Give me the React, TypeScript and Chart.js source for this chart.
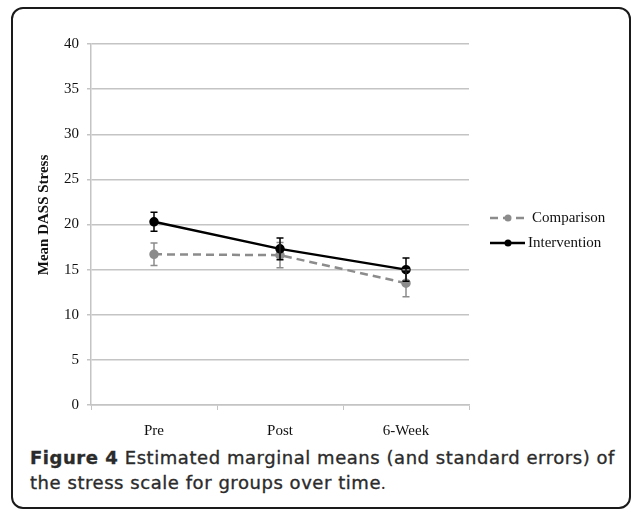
import { useEffect, useRef } from "react";
import { Chart, registerables } from "chart.js";

Chart.register(...registerables);

const categories = ["Pre", "Post", "6-Week"];
const comparison = [16.7, 16.6, 13.5];
const comparisonSE = [1.25, 1.4, 1.5];
const intervention = [20.3, 17.3, 15.0];
const interventionSE = [1.05, 1.2, 1.3];
const yAxisTitle = "Mean DASS Stress";
const seriesNames = ["Intervention", "Comparison"];

const SERIF = "'Liberation Serif', 'Times New Roman', serif";
const GRID = "#c4c4c4";

const errorBarPlugin = {
  id: "errorBars",
  afterDatasetsDraw(chart: any) {
    const ctx = chart.ctx;
    const y = chart.scales.y;
    const order = [1, 0];
    order.forEach((i) => {
      const ds = chart.data.datasets[i];
      const meta = chart.getDatasetMeta(i);
      ctx.save();
      ctx.strokeStyle = ds.borderColor;
      ctx.lineWidth = 1.5;
      ctx.setLineDash([]);
      meta.data.forEach((pt: any, j: number) => {
        const v = ds.data[j];
        const e = ds.se[j];
        const top = y.getPixelForValue(v + e);
        const bot = y.getPixelForValue(v - e);
        const x = pt.x;
        ctx.beginPath();
        ctx.moveTo(x, top);
        ctx.lineTo(x, bot);
        ctx.moveTo(x - 3.5, top);
        ctx.lineTo(x + 3.5, top);
        ctx.moveTo(x - 3.5, bot);
        ctx.lineTo(x + 3.5, bot);
        ctx.stroke();
      });
      ctx.restore();
    });
  },
  afterDraw(chart: any) {
    const ctx = chart.ctx;
    ctx.save();
    // y axis title
    ctx.translate(44, 215);
    ctx.rotate(-Math.PI / 2);
    ctx.font = `bold 15px ${SERIF}`;
    ctx.fillStyle = "#111";
    ctx.textAlign = "center";
    ctx.textBaseline = "middle";
    ctx.fillText(yAxisTitle, 0, 0);
    ctx.restore();

    // legend
    const items = [
      { ds: chart.data.datasets[1], y: 218, textX: 532 },
      { ds: chart.data.datasets[0], y: 243, textX: 528 },
    ];
    items.forEach((it) => {
      ctx.save();
      ctx.strokeStyle = it.ds.borderColor;
      ctx.lineWidth = 2.5;
      ctx.setLineDash(it.ds.borderDash || []);
      ctx.beginPath();
      ctx.moveTo(490, it.y);
      ctx.lineTo(525, it.y);
      ctx.stroke();
      ctx.setLineDash([]);
      ctx.fillStyle = it.ds.pointBackgroundColor;
      ctx.beginPath();
      ctx.arc(508, it.y, 3.5, 0, Math.PI * 2);
      ctx.fill();
      ctx.fillStyle = "#111";
      ctx.font = `15px ${SERIF}`;
      ctx.textAlign = "left";
      ctx.textBaseline = "middle";
      ctx.fillText(it.ds.label, it.textX, it.y);
      ctx.restore();
    });
  },
};

export default function App() {
  const ref = useRef<HTMLCanvasElement | null>(null);

  useEffect(() => {
    if (!ref.current) return;
    const chart = new Chart(ref.current, {
      type: "line",
      data: {
        labels: categories,
        datasets: [
          {
            label: seriesNames[0],
            data: intervention,
            se: interventionSE,
            borderColor: "#000000",
            backgroundColor: "#000000",
            pointBackgroundColor: "#000000",
            pointBorderColor: "#000000",
            borderWidth: 2.5,
            pointRadius: 3.5,
            tension: 0,
          } as any,
          {
            label: seriesNames[1],
            data: comparison,
            se: comparisonSE,
            borderColor: "#8c8c8c",
            backgroundColor: "#8c8c8c",
            pointBackgroundColor: "#8c8c8c",
            pointBorderColor: "#8c8c8c",
            borderWidth: 2.5,
            borderDash: [8, 5],
            pointRadius: 3.5,
            tension: 0,
          } as any,
        ],
      },
      options: {
        animation: false,
        responsive: false,
        devicePixelRatio: 1,
        layout: { padding: { left: 32, top: 44, right: 166, bottom: 0 } },
        plugins: { legend: { display: false }, tooltip: { enabled: false } },
        scales: {
          x: {
            offset: true,
            grid: {
              offset: true,
              drawOnChartArea: false,
              drawTicks: true,
              tickLength: 5,
              color: GRID,
              lineWidth: 1,
            },
            border: { color: GRID, width: 1.5 },
            ticks: {
              color: "#111",
              font: { family: SERIF, size: 15 },
              padding: 12,
            },
            afterFit: (s: any) => {
              s.height = 40;
            },
          },
          y: {
            min: 0,
            max: 40,
            ticks: {
              stepSize: 5,
              color: "#111",
              font: { family: SERIF, size: 15 },
              padding: 8,
            },
            grid: { color: GRID, lineWidth: 1.5, tickLength: 4 },
            border: { color: GRID, width: 1.5 },
            afterFit: (s: any) => {
              s.width = 59;
            },
          },
        },
      },
      plugins: [errorBarPlugin],
    });
    return () => chart.destroy();
  }, []);

  return (
    <div style={{ position: "absolute", left: 0, top: 0, width: 635, height: 516 }}>
      <div
        style={{
          position: "absolute",
          left: 11,
          top: 7,
          width: 616,
          height: 498,
          border: "2px solid #1a1a1a",
          borderRadius: 12,
          background: "#fff",
        }}
      />
      <canvas
        ref={ref}
        width={635}
        height={445}
        style={{ position: "absolute", left: 0, top: 0, width: 635, height: 445 }}
      />
      <div
        style={{
          position: "absolute",
          left: 30,
          top: 445,
          width: 596,
          fontFamily: "'DejaVu Sans', sans-serif",
          fontSize: 18,
          letterSpacing: "0.55px",
          lineHeight: "25px",
          color: "#2b2b2b",
          whiteSpace: "nowrap",
          WebkitTextStroke: "0.35px #2b2b2b",
        }}
      >
        <span style={{ fontWeight: 700 }}>Figure 4</span> Estimated marginal means (and standard errors) of
        <br />
        the stress scale for groups over time
        <span style={{ fontFamily: SERIF, fontWeight: 400, WebkitTextStroke: "0px" }}>.</span>
      </div>
    </div>
  );
}
